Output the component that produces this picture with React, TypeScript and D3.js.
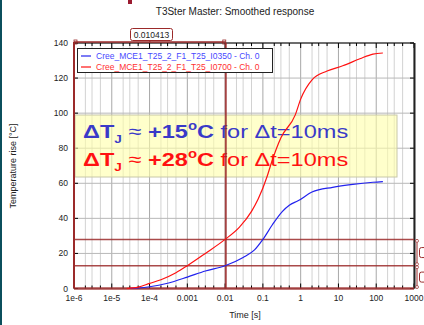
import React from "react";
import * as d3 from "d3";

// Smoothed thermal response curves (time [s], temperature rise [°C])
const blueTimes = [3e-5, 5e-5, 1e-4, 3e-4, 1e-3, 3e-3, 1e-2, 3e-2, 0.06, 0.1, 0.18, 0.33, 0.5, 0.85, 2, 7, 24, 82, 150];
const blueValues = [0, 0.3, 1, 3, 6.5, 10, 13, 17.7, 22, 28, 36.5, 44, 47.5, 50, 55, 57.7, 59.4, 60.6, 61];

const redTimes = [2.5e-5, 5e-5, 1e-4, 2e-4, 5e-4, 1e-3, 3e-3, 1e-2, 0.024, 0.05, 0.075, 0.13, 0.17, 0.3, 0.72, 1, 2, 5, 13, 37, 82, 150];
const redValues = [0, 0.8, 2.9, 5, 9, 13, 20, 28, 35, 44, 51, 64, 72, 86, 99, 108, 119, 124, 127, 131, 133.7, 134.3];

const seriesNames = [
  "Cree_MCE1_T25_2_F1_T25_I0350 - Ch. 0",
  "Cree_MCE1_T25_2_F1_T25_I0700 - Ch. 0",
];

const xTickValues = [1e-6, 1e-5, 1e-4, 1e-3, 1e-2, 0.1, 1, 10, 100, 1000];
const xTickLabels = ["1e-6", "1e-5", "1e-4", "0.001", "0.01", "0.1", "1", "10", "100", "1000"];
const minorMantissas = [2, 3, 5];
const yTickValues = [0, 20, 40, 60, 80, 100, 120, 140];

// Cursor markers
const cursorTime = 0.010413;
const cursorLevels = [28, 13, 0];
const deltaLabels = ["+15", "+28"];

const FONT = "'Liberation Sans', Arial, sans-serif";
const BLUE = "#2222ee";
const RED = "#ff1111";
const MARK = "#9b2a2a";
const TXT_BLUE = "#3a3ac8";

export default function App() {
  const W = 424;
  const H = 325;
  const x = d3.scaleLog().domain([1e-6, 1000]).range([74, 414]);
  const y = d3.scaleLinear().domain([0, 140]).range([288.5, 43]);

  const minorTicks: number[] = [];
  for (let e = -6; e < 3; e++) {
    for (const m of minorMantissas) minorTicks.push(m * Math.pow(10, e));
  }

  const line = d3
    .line<[number, number]>()
    .x((d) => x(d[0]))
    .y((d) => y(d[1]))
    .curve(d3.curveMonotoneX);

  const blueData = blueTimes.map((t, i) => [t, blueValues[i]] as [number, number]);
  const redData = redTimes.map((t, i) => [t, redValues[i]] as [number, number]);

  const [x0, x1] = x.range();
  const [y0, y1] = y.range();
  const cx = x(cursorTime);

  return (
    <svg
      width={W}
      height={H}
      style={{ position: "absolute", left: 0, top: 0, background: "#fff" }}
      fontFamily={FONT}
    >
      <rect x={0} y={0} width={W} height={H} fill="#fff" />
      <rect x={0} y={0} width={2} height={H} fill="#0b4f5c" />
      <rect x={128} y={0} width={4} height={4} fill="#9b1b30" />

      <text x={235} y={15} textAnchor="middle" fontSize={10} fill="#222">
        T3Ster Master: Smoothed response
      </text>

      {/* grid */}
      {minorTicks.map((t, i) => (
        <line key={"mg" + i} x1={x(t)} x2={x(t)} y1={y1} y2={y0} stroke="#d2d2d2" strokeWidth={1} />
      ))}
      {xTickValues.map((t, i) => (
        <line key={"Mg" + i} x1={x(t)} x2={x(t)} y1={y1} y2={y0} stroke="#a8a8a8" strokeWidth={1} />
      ))}
      {yTickValues.map((v, i) => (
        <line key={"hg" + i} x1={x0} x2={x1} y1={y(v)} y2={y(v)} stroke="#b8b8b8" strokeWidth={1} />
      ))}

      {/* ticks */}
      {minorTicks.map((t, i) => (
        <g key={"mt" + i}>
          <line x1={x(t)} x2={x(t)} y1={y1} y2={y1 + 3} stroke="#000" />
          <line x1={x(t)} x2={x(t)} y1={y0} y2={y0 - 3} stroke="#000" />
        </g>
      ))}
      {xTickValues.map((t, i) => (
        <g key={"Mt" + i}>
          <line x1={x(t)} x2={x(t)} y1={y1} y2={y1 + 5} stroke="#000" />
          <line x1={x(t)} x2={x(t)} y1={y0} y2={y0 - 5} stroke="#000" />
        </g>
      ))}
      {yTickValues.map((v, i) => (
        <g key={"yt" + i}>
          <line x1={x0} x2={x0 + 4} y1={y(v)} y2={y(v)} stroke="#000" />
          <line x1={x1} x2={x1 - 4} y1={y(v)} y2={y(v)} stroke="#000" />
        </g>
      ))}

      {/* frame */}
      <line x1={x0} x2={x1} y1={y1} y2={y1} stroke="#000" strokeWidth={1} />
      <line x1={x1 + 0.5} x2={x1 + 0.5} y1={y1} y2={y0} stroke="#222" strokeWidth={2} />

      {/* annotation box */}
      <rect x={75} y={115} width={322} height={62} fill="#ffffa8" fillOpacity={0.6} stroke="#c8c8a8" strokeWidth={1} />
      {deltaLabels.map((lab, i) => (
        <text
          key={"ann" + i}
          transform={`translate(83,${138 + i * 28}) scale(1.24,1)`}
          fontSize={19}
          fill={i === 0 ? TXT_BLUE : RED}
        >
          <tspan fontWeight="bold">ΔT</tspan>
          <tspan fontWeight="bold" fontSize={11} dy={5}>J</tspan>
          <tspan dy={-5}> ≈ </tspan>
          <tspan fontWeight="bold">{lab}</tspan>
          <tspan fontWeight="bold" fontSize={12} dy={-8}>o</tspan>
          <tspan fontWeight="bold" dy={8}>C</tspan>
          <tspan> for Δt=10ms</tspan>
        </text>
      ))}

      {/* cursor markers */}
      <line x1={cx} x2={cx} y1={y1} y2={y0} stroke={MARK} strokeWidth={2} strokeOpacity={0.85} />
      {cursorLevels.map((v, i) => (
        <line key={"cl" + i} x1={x0} x2={x1} y1={y(v)} y2={y(v)} stroke={MARK} strokeWidth={v === 0 ? 2.5 : 1.5} strokeOpacity={0.85} />
      ))}
      <line x1={x0} x2={x0} y1={y1 - 1} y2={y0} stroke={MARK} strokeWidth={2} />

      {/* curves */}
      <path d={line(blueData) ?? ""} fill="none" stroke={BLUE} strokeWidth={1.2} />
      <path d={line(redData) ?? ""} fill="none" stroke={RED} strokeWidth={1.2} />

      {/* legend */}
      <rect x={77.5} y={48.5} width={195} height={24} fill="#fff" stroke="#222" strokeWidth={1} />
      {seriesNames.map((name, i) => (
        <g key={"lg" + i}>
          <line x1={81} x2={91} y1={56 + i * 11} y2={56 + i * 11} stroke={i === 0 ? BLUE : RED} strokeWidth={1.2} />
          <text x={96} y={59 + i * 11} fontSize={8.5} fill={i === 0 ? "#4848ff" : "#ff3030"}>
            {name}
          </text>
        </g>
      ))}

      {/* time span bracket */}
      <line x1={x0} x2={cx} y1={42} y2={42} stroke={MARK} strokeWidth={1.5} />
      <rect x={x0} y={40} width={3} height={4} fill="none" stroke={MARK} strokeWidth={0.8} />
      <rect x={cx - 3} y={40} width={3} height={4} fill="none" stroke={MARK} strokeWidth={0.8} />
      <line x1={(x0 + cx) / 2} x2={(x0 + cx) / 2} y1={40} y2={42} stroke={MARK} />
      <rect x={130.5} y={28.5} width={42} height={12} rx={2} fill="#fff" stroke={MARK} strokeWidth={1} />
      <text x={151.5} y={37.5} textAnchor="middle" fontSize={8.5} fill="#222">
        {cursorTime.toFixed(6)}
      </text>

      {/* level brackets on the right */}
      {[[cursorLevels[0], cursorLevels[1]], [cursorLevels[1], cursorLevels[2]]].map(([a, b], i) => (
        <g key={"rb" + i}>
          <line x1={417} x2={417} y1={y(a)} y2={y(b)} stroke={MARK} strokeWidth={1} />
          <circle cx={417} cy={y(a) + 1.5} r={1.5} fill="#fff" stroke={MARK} strokeWidth={0.7} />
          <circle cx={417} cy={y(b) - 1.5} r={1.5} fill="#fff" stroke={MARK} strokeWidth={0.7} />
          <rect x={419.5} y={(y(a) + y(b)) / 2 - 5} width={12} height={10} rx={2} fill="#fff" stroke={MARK} strokeWidth={1} />
        </g>
      ))}

      {/* axis labels */}
      {yTickValues.map((v, i) => (
        <text key={"yl" + i} x={68} y={y(v) + 3} textAnchor="end" fontSize={8.5} fill="#222">
          {v}
        </text>
      ))}
      {xTickValues.map((t, i) => (
        <text key={"xl" + i} x={x(t)} y={301} textAnchor="middle" fontSize={8.5} fill="#222">
          {xTickLabels[i]}
        </text>
      ))}
      <text x={245} y={318} textAnchor="middle" fontSize={9} fill="#222">
        Time [s]
      </text>
      <text transform="translate(16,166) rotate(-90)" textAnchor="middle" fontSize={9} fill="#222">
        Temperature rise [°C]
      </text>
    </svg>
  );
}
